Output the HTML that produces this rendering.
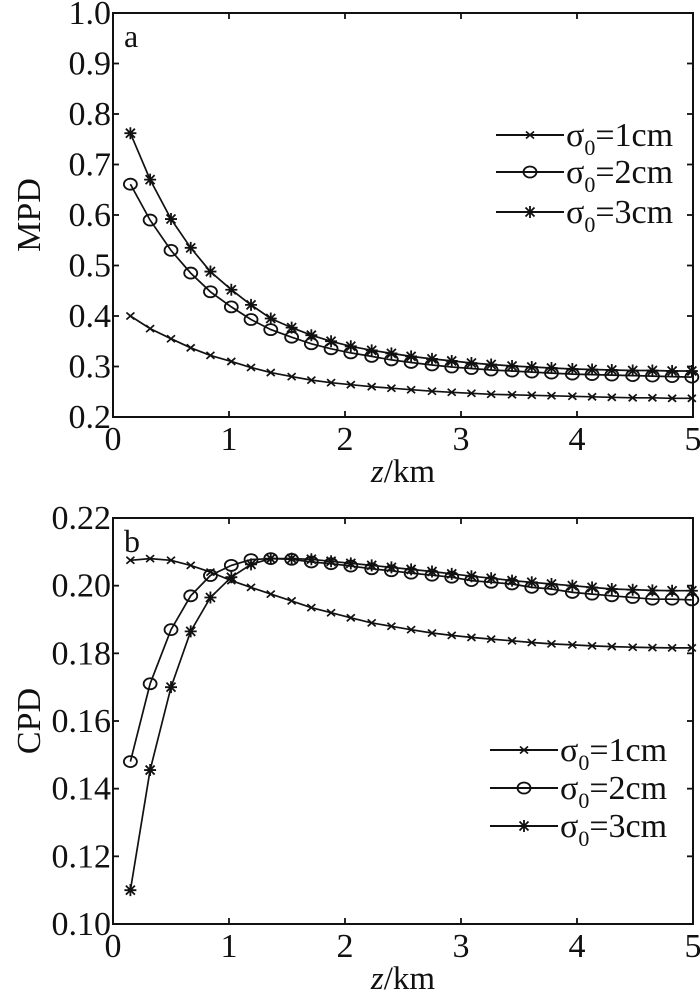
<!DOCTYPE html>
<html><head><meta charset="utf-8"><style>
body{margin:0;background:#fff}
svg text{font-family:"Liberation Serif",serif;fill:#111}
</style></head><body>
<svg id="chart" width="700" height="991" viewBox="0 0 700 991" xmlns="http://www.w3.org/2000/svg"></svg>
<script>
const zValues=[0.15,0.32,0.5,0.67,0.84,1.02,1.19,1.36,1.54,1.71,1.88,2.05,2.23,2.4,2.57,2.75,2.92,3.09,3.26,3.44,3.61,3.78,3.96,4.13,4.3,4.48,4.65,4.82,4.99];
const mpd1=[0.40,0.375,0.355,0.337,0.322,0.31,0.298,0.288,0.28,0.273,0.268,0.264,0.26,0.257,0.254,0.251,0.249,0.247,0.245,0.244,0.243,0.242,0.241,0.24,0.239,0.238,0.238,0.237,0.237];
const mpd2=[0.661,0.59,0.53,0.485,0.448,0.418,0.393,0.373,0.358,0.345,0.335,0.327,0.32,0.313,0.308,0.303,0.299,0.296,0.293,0.291,0.289,0.287,0.285,0.284,0.283,0.282,0.281,0.28,0.279];
const mpd3=[0.762,0.67,0.592,0.535,0.488,0.452,0.422,0.395,0.377,0.362,0.35,0.34,0.332,0.326,0.32,0.315,0.311,0.307,0.304,0.301,0.299,0.297,0.295,0.294,0.293,0.292,0.292,0.291,0.291];
const cpd1=[0.2075,0.208,0.2075,0.206,0.204,0.2015,0.1995,0.1975,0.1955,0.1935,0.192,0.1905,0.189,0.188,0.187,0.186,0.1853,0.1847,0.1842,0.1837,0.1832,0.1828,0.1825,0.1822,0.182,0.1818,0.1817,0.1816,0.1816];
const cpd2=[0.148,0.171,0.187,0.197,0.203,0.206,0.2077,0.208,0.2078,0.207,0.2065,0.2058,0.205,0.2044,0.2037,0.2031,0.2025,0.2015,0.201,0.2005,0.1995,0.199,0.198,0.1975,0.197,0.1965,0.196,0.196,0.1958];
const cpd3=[0.110,0.1455,0.170,0.1865,0.1965,0.2025,0.2063,0.208,0.208,0.2078,0.2072,0.2066,0.206,0.2054,0.2048,0.2042,0.2035,0.2028,0.2022,0.2015,0.201,0.2005,0.2,0.1995,0.199,0.1988,0.1986,0.1985,0.1985];
const xTicks=[0,1,2,3,4,5];
const mpdTicks=["0.2","0.3","0.4","0.5","0.6","0.7","0.8","0.9","1.0"];
const cpdTicks=["0.10","0.12","0.14","0.16","0.18","0.20","0.22"];
const legendLabels=["1cm","2cm","3cm"];

const NS="http://www.w3.org/2000/svg";
const svg=document.getElementById('chart');
function mk(tag,attrs,parent){const e=document.createElementNS(NS,tag);for(const k in attrs)e.setAttribute(k,attrs[k]);(parent||svg).appendChild(e);return e;}

function marker(g,type,x,y){
  if(type==='x'){mk('path',{d:`M${x-4},${y-3.5}L${x+4},${y+3.5}M${x-4},${y+3.5}L${x+4},${y-3.5}`,stroke:'#111','stroke-width':1.7},g);}
  else if(type==='o'){mk('ellipse',{cx:x,cy:y,rx:6.5,ry:5.5,fill:'none',stroke:'#111','stroke-width':1.8},g);}
  else{mk('path',{d:`M${x-6},${y}L${x+6},${y}M${x},${y-6}L${x},${y+6}M${x-4.5},${y-4.5}L${x+4.5},${y+4.5}M${x-4.5},${y+4.5}L${x+4.5},${y-4.5}`,stroke:'#111','stroke-width':1.8},g);}
}

function panel(cfg){
  const {name,top,bottom,ymin,ymax,ticks,series,letter,ylabel,legY,legX}=cfg;
  const L=113,R=693;
  const xs=v=>L+(v/5)*(R-L);
  const ys=v=>bottom-(v-ymin)/(ymax-ymin)*(bottom-top);
  const g=mk('g',{});
  
  
  const fr=mk('rect',{x:L,y:top,width:R-L,height:bottom-top,fill:'none',stroke:'#111','stroke-width':2},g);
  
  
  xTicks.forEach(t=>{
    const x=xs(t);
    mk('line',{x1:x,y1:bottom,x2:x,y2:bottom-6,stroke:'#111','stroke-width':1.8},g);
    mk('line',{x1:x,y1:top,x2:x,y2:top+6,stroke:'#111','stroke-width':1.8},g);
    const tx=mk('text',{x:x,y:bottom+33,'font-size':34,'text-anchor':'middle'},g);
    tx.textContent=t;
    
    
  });
  ticks.forEach(t=>{
    const y=ys(parseFloat(t));
    mk('line',{x1:L,y1:y,x2:L+6,y2:y,stroke:'#111','stroke-width':1.8},g);
    mk('line',{x1:R,y1:y,x2:R-6,y2:y,stroke:'#111','stroke-width':1.8},g);
    const tx=mk('text',{x:L-2,y:y+11,'font-size':34,'text-anchor':'end'},g);
    tx.textContent=t;
    
    
  });
  const xl=mk('text',{x:403,y:bottom+65,'font-size':33,'text-anchor':'middle'},g);
  xl.innerHTML='<tspan font-style="italic">z</tspan>/km';
  
  
  const cy=(top+bottom)/2;
  const yl=mk('text',{x:0,y:0,'font-size':34,'text-anchor':'middle',transform:`translate(40,${cy}) rotate(-90)`},g);
  yl.textContent=ylabel;
  
  
  const lt=mk('text',{x:124,y:top+34,'font-size':32},g);
  lt.textContent=letter;
  
  
  series.forEach((s,i)=>{
    const sg=mk('g',{},g);
    
    
    const d=s.vals.map((v,j)=>(j?'L':'M')+xs(zValues[j]).toFixed(1)+','+ys(v).toFixed(1)).join('');
    mk('path',{d:d,fill:'none',stroke:'#111','stroke-width':1.7},sg);
    s.vals.forEach((v,j)=>marker(sg,s.m,xs(zValues[j]),ys(v)));
  });
  series.forEach((s,i)=>{
    const y=legY[i];
    const lg=mk('g',{},g);
    
    
    mk('line',{x1:legX,y1:y,x2:legX+68,y2:y,stroke:'#111','stroke-width':2},lg);
    marker(lg,s.m,legX+34,y);
    const t=mk('text',{x:legX+70,y:y+11,'font-size':34},lg);
    t.innerHTML='σ<tspan font-size="22" dy="9">0</tspan><tspan dy="-9">='+legendLabels[i]+'</tspan>';
  });
}
panel({name:'mpd',top:13,bottom:417,ymin:0.2,ymax:1.0,ticks:mpdTicks,letter:'a',ylabel:'MPD',legX:496,legY:[135,172,212],
  series:[{vals:mpd1,m:'x'},{vals:mpd2,m:'o'},{vals:mpd3,m:'*'}]});
panel({name:'cpd',top:518,bottom:924,ymin:0.10,ymax:0.22,ticks:cpdTicks,letter:'b',ylabel:'CPD',legX:490,legY:[750,788,826],
  series:[{vals:cpd1,m:'x'},{vals:cpd2,m:'o'},{vals:cpd3,m:'*'}]});
</script>
</body></html>
